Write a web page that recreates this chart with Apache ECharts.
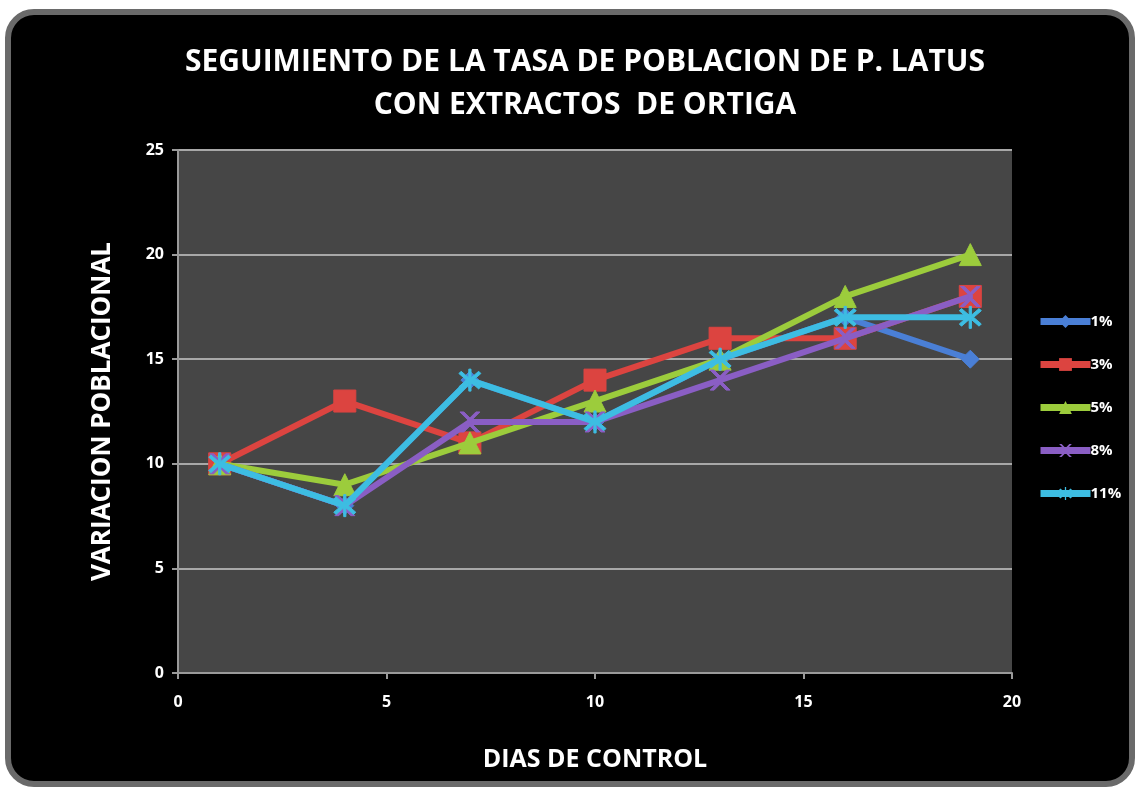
<!DOCTYPE html>
<html><head><meta charset="utf-8">
<script src="https://cdn.jsdelivr.net/npm/echarts@6/dist/echarts.min.js"></script>
<style>html,body{margin:0;padding:0;background:#fff;}#c{width:1138px;height:789px;}</style>
</head><body><div id="c"></div>
<script>
const days = [1, 4, 7, 10, 13, 16, 19];
const seriesNames = ['1%', '3%', '5%', '8%', '11%'];
const s1 = [10, 8, 14, 12, 15, 17, 15];
const s3 = [10, 13, 11, 14, 16, 16, 18];
const s5 = [10, 9, 11, 13, 15, 18, 20];
const s8 = [10, 8, 12, 12, 14, 16, 18];
const s11 = [10, 8, 14, 12, 15, 17, 17];
const xTicks = [0, 5, 10, 15, 20];
const yTicks = [0, 5, 10, 15, 20, 25];

const values = [s1, s3, s5, s8, s11];
const colors = ['#4a7fd6', '#dc4440', '#9ccc3c', '#8a5ec4', '#3dbde2'];
const symbols = [
  'diamond', 'rect', 'triangle',
  'path://M0,0 L2,0 L5,3 L8,0 L10,0 L6,4 L6,6 L10,10 L8,10 L5,7 L2,10 L0,10 L4,6 L4,4 Z',
  'path://M4.5,0 L5.5,0 L5.5,4 L9,1 L10,2 L6.5,5 L10,8 L9,9 L5.5,6 L5.5,10 L4.5,10 L4.5,6 L1,9 L0,8 L3.5,5 L0,2 L1,1 L4.5,4 Z'
];
const sizes = [18, 22, 22, 20, 22];

const chart = echarts.init(document.getElementById('c'));
const font = '"Open Sans", "Liberation Sans", sans-serif';
chart.setOption({
  backgroundColor: '#ffffff',
  graphic: [{
    type: 'rect', z: -10, silent: true,
    shape: { x: 8, y: 12, width: 1124, height: 772, r: 26 },
    style: { fill: '#000000', stroke: '#6a6a6a', lineWidth: 6 }
  }],
  title: {
    text: 'SEGUIMIENTO DE LA TASA DE POBLACION DE P. LATUS\nCON EXTRACTOS  DE ORTIGA',
    left: 580, top: 36, textAlign: 'center',
    textStyle: { color: '#ffffff', fontFamily: font, fontWeight: 'bold', fontSize: 30, lineHeight: 43 }
  },
  legend: {
    orient: 'vertical', left: 1032, top: 309, itemGap: 28, itemWidth: 50, itemHeight: 16,
    data: seriesNames,
    lineStyle: { width: 7 },
    textStyle: { color: '#ffffff', fontFamily: font, fontWeight: 'bold', fontSize: 15, padding: [0, 0, 0, -5] }
  },
  grid: {
    left: 178, right: 126, top: 150, bottom: 116, show: true,
    backgroundColor: '#464646', borderWidth: 0
  },
  xAxis: {
    type: 'value', min: 0, max: 20, interval: 5,
    name: 'DIAS DE CONTROL', nameLocation: 'middle', nameGap: 74,
    nameTextStyle: { color: '#ffffff', fontFamily: font, fontWeight: 'bold', fontSize: 25 },
    axisLine: { show: true, onZero: false, lineStyle: { color: '#9a9a9a', width: 2 } },
    axisTick: { show: true, inside: false, length: 6, lineStyle: { color: '#9a9a9a', width: 2 } },
    axisLabel: { color: '#ffffff', fontFamily: font, fontWeight: 'bold', fontSize: 16, margin: 21,
      formatter: v => xTicks.includes(v) ? String(v) : '' },
    splitLine: { show: false }
  },
  yAxis: {
    type: 'value', min: 0, max: 25, interval: 5,
    name: 'VARIACION POBLACIONAL', nameLocation: 'middle', nameGap: 62, nameRotate: 90,
    nameTextStyle: { color: '#ffffff', fontFamily: font, fontWeight: 'bold', fontSize: 26 },
    axisLine: { show: true, lineStyle: { color: '#9a9a9a', width: 2 } },
    axisTick: { show: true, length: 6, lineStyle: { color: '#9a9a9a', width: 2 } },
    axisLabel: { color: '#ffffff', fontFamily: font, fontWeight: 'bold', fontSize: 16, margin: 14,
      formatter: v => yTicks.includes(v) ? String(v) : '' },
    splitLine: { show: true, lineStyle: { color: '#a8a8a8', width: 2 } }
  },
  series: seriesNames.map((n, i) => ({
    name: n, type: 'line',
    data: days.map((d, j) => [d, values[i][j]]),
    symbol: symbols[i], symbolSize: sizes[i],
    lineStyle: { color: colors[i], width: 6 },
    itemStyle: { color: colors[i], borderColor: colors[i] },
    z: 2 + i
  }))
});
</script></body></html>
